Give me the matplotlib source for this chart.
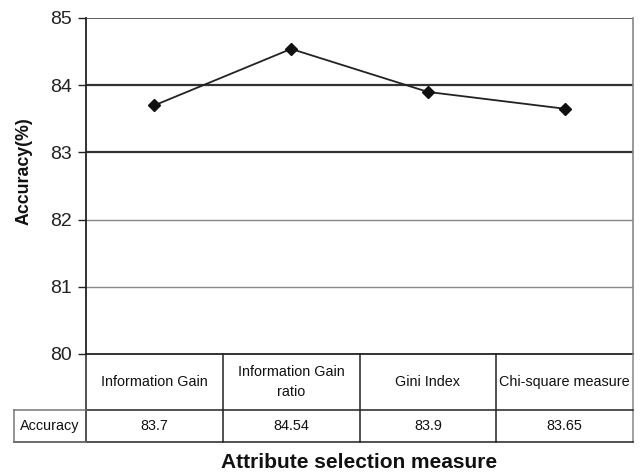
import matplotlib
matplotlib.use("Agg")
import matplotlib.pyplot as plt
from matplotlib.transforms import blended_transform_factory
from matplotlib.lines import Line2D

plt.rcParams['font.family'] = ['Liberation Sans', 'DejaVu Sans']

# Data
categories = ["Information Gain", "Information Gain\nratio", "Gini Index", "Chi-square measure"]
accuracy = [83.7, 84.54, 83.9, 83.65]
value_labels = ["83.7", "84.54", "83.9", "83.65"]
row_label = "Accuracy"
y_ticks = [80, 81, 82, 83, 84, 85]

fig = plt.figure(figsize=(6.43, 4.75), dpi=100)
ax = fig.add_axes([86 / 643, 121 / 475, 547 / 643, 336 / 475])

x = list(range(len(categories)))

# Horizontal gridlines: darker for the upper band, lighter below
grid_style = {85: ('#444444', 1.2), 84: ('#333333', 1.6), 83: ('#333333', 1.6),
              82: ('#888888', 1.0), 81: ('#888888', 1.0)}
for yv, (c, lw) in grid_style.items():
    ax.axhline(yv, color=c, lw=lw, zorder=1)

ax.plot(x, accuracy, color='#222222', lw=1.3, marker='D', markersize=6.5,
        markerfacecolor='#111111', markeredgecolor='#111111', zorder=3)

ax.set_xlim(-0.5, len(categories) - 0.5)
ax.set_ylim(y_ticks[0], y_ticks[-1])
ax.set_yticks(y_ticks)
ax.set_yticklabels([str(t) for t in y_ticks], fontsize=14, color='#222222')
ax.tick_params(axis='y', length=6, width=1, pad=4, color='#222222')
ax.set_xticks([])

ax.spines['top'].set_visible(False)
ax.spines['right'].set_color('#888888')
ax.spines['right'].set_linewidth(1.2)
for side in ['left', 'bottom']:
    ax.spines[side].set_color('#222222')
    ax.spines[side].set_linewidth(1.3)

# Data table under the plot: x in data units (one column per category),
# y in axes fraction below the plotting area
tr = blended_transform_factory(ax.transData, ax.transAxes)
header_top = 0.0
header_bottom = -56 / 336
row_bottom = -88 / 336
label_left = -0.5 - 72 / 137
right = len(categories) - 0.5


def seg(x0, x1, y0, y1, color='#222222', lw=1.1):
    ax.add_line(Line2D([x0, x1], [y0, y1], transform=tr, color=color, lw=lw,
                       clip_on=False, zorder=4))


# column separators through both rows
for i in range(len(categories) + 1):
    xb = i - 0.5
    seg(xb, xb, header_top, row_bottom, color='#888888' if i == len(categories) else '#222222')
# horizontal rules
seg(-0.5, right, header_bottom, header_bottom)
seg(label_left, -0.5, header_bottom, header_bottom, color='#777777')
seg(label_left, right, row_bottom, row_bottom)
seg(label_left, -0.5, row_bottom, row_bottom, color='#777777')
seg(label_left, label_left, header_bottom, row_bottom, color='#777777')

for xi, cat, val in zip(x, categories, value_labels):
    ax.text(xi, (header_top + header_bottom) / 2, cat, transform=tr, ha='center',
            va='center', fontsize=10.4, color='#111111', linespacing=1.6, clip_on=False)
    ax.text(xi, (header_bottom + row_bottom) / 2, val, transform=tr, ha='center',
            va='center', fontsize=10.4, color='#111111', clip_on=False)
ax.text((label_left - 0.5) / 2, (header_bottom + row_bottom) / 2, row_label,
        transform=tr, ha='center', va='center', fontsize=10.4, color='#111111', clip_on=False)

fig.text(359.5 / 643, 1 - 462 / 475, "Attribute selection measure",
         ha='center', va='center', fontsize=15, fontweight='bold', color='#111111')
fig.text(24 / 643, 1 - 171 / 475, "Accuracy(%)", rotation=90,
         ha='center', va='center', fontsize=12.8, fontweight='bold', color='#111111')

fig.savefig("out.png", dpi=100)
